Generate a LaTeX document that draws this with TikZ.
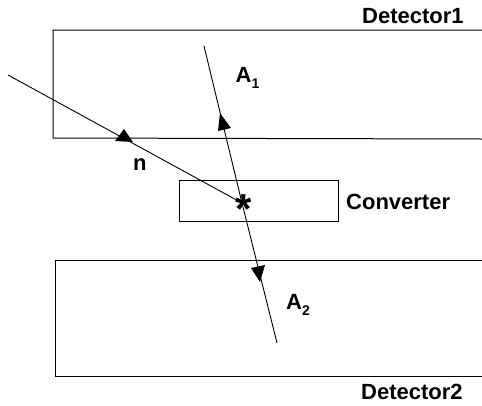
\documentclass[tikz,border=0pt]{standalone}
\usepackage{fontspec}
\setmainfont{Liberation Sans}
\usetikzlibrary{arrows.meta,decorations.markings}
\newcommand{\subs}[1]{\raisebox{-6pt}{\fontsize{14}{14}\bfseries\selectfont #1}}
\tikzset{
  x=1pt,y=-1pt,
  box/.style={line width=1pt,line cap=rect},
  ray/.style={line width=0.9pt},
  lab/.style={inner sep=0pt,anchor=base west,font=\fontsize{22}{24}\bfseries\selectfont},
  tip/.style={fill=black,draw=none},
}
\begin{document}
\begin{tikzpicture}
\useasboundingbox (0,0) rectangle (482,405);
\coordinate (d1tr) at (482,30);
\coordinate (d1tl) at (53,30);
\coordinate (d1bl) at (53,138);
\coordinate (d1br) at (482,139);
\coordinate (d2tr) at (482,260);
\coordinate (d2tl) at (55,260);
\coordinate (d2bl) at (55,376);
\coordinate (d2br) at (482,376);
\coordinate (cnv1) at (179,180);
\coordinate (cnv2) at (338,221);
\coordinate (nstart) at (8,75);
\coordinate (vertex) at (242,203);
\coordinate (a1end) at (204,46);
\coordinate (a2end) at (277,343);
\draw[box] (d1tr) -- (d1tl) -- (d1bl) -- (d1br);
\draw[box] (d2tr) -- (d2tl) -- (d2bl) -- (d2br);
\draw[box] (cnv1) rectangle (cnv2);
\draw[ray] (nstart) -- (vertex);
\draw[ray] (a1end) -- (vertex);
\draw[ray] (vertex) -- (a2end);
\fill[tip] (133,142) -- (115,141) -- (124,129) -- cycle;
\fill[tip] (220,113) -- (231,128) -- (218,131) -- cycle;
\fill[tip] (260,282) -- (251,268) -- (265,265) -- cycle;
\node[lab] (det1) at (362,23) {Detector1};
\node[lab] (det2) at (361,399) {Detector2};
\node[lab] (conv) at (346,209) {Converter};
\node[lab] (nlab) at (133,170) {n};
\node[lab] (a1) at (235.5,82) {A\subs{1}};
\node[lab] (a2) at (286,309) {A\subs{2}};
\node[inner sep=0pt,font=\fontsize{42}{42}\bfseries\selectfont] (star) at (243.5,209) {*};
\end{tikzpicture}
\end{document}
